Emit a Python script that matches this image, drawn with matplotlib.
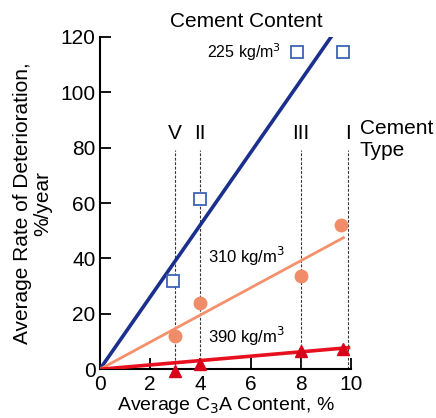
import matplotlib
matplotlib.use('Agg')
import numpy as np
import matplotlib.pyplot as plt

plt.rcParams['font.family'] = ['Liberation Sans', 'DejaVu Sans']

# cement type positions (C3A content, %)
type_names = ['V', 'II', 'III', 'I']
type_x = [3.0, 4.0, 8.0, 9.9]

# 225 kg/m3
c225_x = [2.9, 4.0, 7.85, 9.7]
c225_y = [32, 61.5, 114.5, 114.5]
c225_fit = ([0, 9.25], [0, 120.5])

# 310 kg/m3
c310_x = [3.0, 4.0, 8.0, 9.6]
c310_y = [12, 24, 33.5, 52]
c310_fit = ([0, 9.7], [0, 47.5])

# 390 kg/m3
c390_x = [3.0, 4.0, 8.0, 9.7]
c390_y = [-0.5, 2, 6.5, 7.5]
c390_fit = ([0, 9.9], [0, 7.8])

fig = plt.figure(figsize=(4.36, 4.18), dpi=100)
ax = fig.add_axes([0.229, 0.1165, 0.576, 0.7955])

for name, x in zip(type_names, type_x):
    ax.plot([x, x], [0, 79], color='#333333', linestyle=(0, (2.5, 1.5)), linewidth=0.8)
    ax.text(x, 85, name, ha='center', va='center', fontsize=15)

ax.plot(c225_fit[0], c225_fit[1], color='#1b2f8c', linewidth=2.6, zorder=3)
ax.plot(c225_x, c225_y, 's', markersize=8.5, markerfacecolor='white',
        markeredgecolor='#3d63b5', markeredgewidth=1.3, linestyle='none', zorder=4)

ax.plot(c310_fit[0], c310_fit[1], color='#f4916c', linewidth=2.0, zorder=3)
ax.plot(c310_x, c310_y, 'o', markersize=9, color='#f08c68', linestyle='none', zorder=4)

ax.plot(c390_fit[0], c390_fit[1], color='#e8101e', linewidth=2.6, zorder=3)
ax.plot(c390_x, c390_y, '^', markersize=8.5, color='#d9001a', linestyle='none',
        zorder=5, clip_on=False)

ax.text(5.85, 125.5, 'Cement Content', ha='center', va='center', fontsize=15)
ax.text(4.25, 114.5, '225 kg/m$^3$', ha='left', va='center', fontsize=11.5)
ax.text(4.3, 40.6, '310 kg/m$^3$', ha='left', va='center', fontsize=12)
ax.text(4.3, 11.8, '390 kg/m$^3$', ha='left', va='center', fontsize=12)
ax.text(10.35, 83, 'Cement\nType', ha='left', va='center', fontsize=15, linespacing=1.2)

ax.set_xlim(0, 10)
ax.set_ylim(0, 120)
ax.set_xticks([0, 2, 4, 6, 8, 10])
ax.set_yticks([0, 20, 40, 60, 80, 100, 120])
ax.spines['top'].set_visible(False)
ax.spines['right'].set_visible(False)
ax.spines['left'].set_linewidth(1.5)
ax.spines['bottom'].set_linewidth(1.5)
ax.tick_params(direction='in', length=8, width=1.3, labelsize=15, pad=4)
ax.tick_params(axis='y', pad=3)

ax.set_xlabel('Average C$_3$A Content, %', fontsize=14, labelpad=1)
ax.set_ylabel('Average Rate of Deterioration,\n%/year', fontsize=15, labelpad=6,
              linespacing=1.1)

fig.savefig('out.png', dpi=100)
